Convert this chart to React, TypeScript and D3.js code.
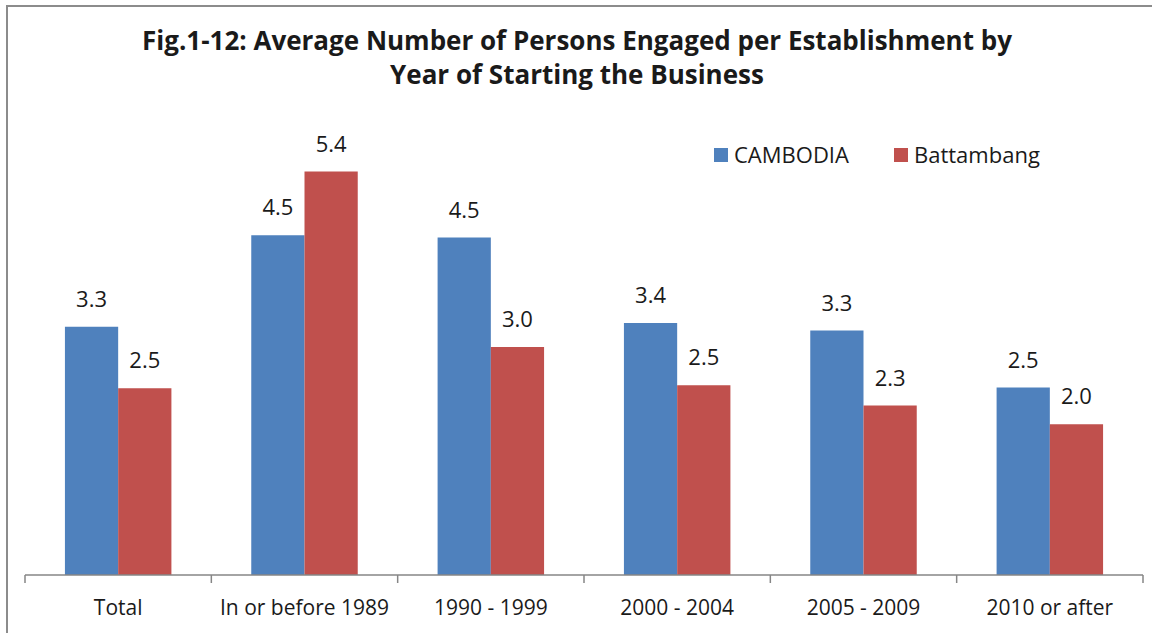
import React from 'react';
import * as d3 from 'd3';

const categories = ['Total', 'In or before 1989', '1990 - 1999', '2000 - 2004', '2005 - 2009', '2010 or after'];
const seriesNames = ['CAMBODIA', 'Battambang'];
const cambodiaValues = [3.31, 4.53, 4.5, 3.36, 3.26, 2.5];
const battambangValues = [2.49, 5.38, 3.04, 2.53, 2.26, 2.01];
const seriesColors = ['#4f81bd', '#c0504d'];
const titleLines = [
  'Fig.1-12: Average Number of Persons Engaged per Establishment by',
  'Year of Starting the Business'
];

const W = 1152;
const H = 633;
const FONT = '"Open Sans", Lato, sans-serif';
const TEXT = '#1a1a1a';

export default function App() {
  const series = [cambodiaValues, battambangValues];

  const x0 = d3.scaleBand<string>().domain(categories).range([25, 1143]).paddingInner(0).paddingOuter(0);
  const x1 = d3.scaleBand<string>().domain(seriesNames).range([0, x0.bandwidth()]).paddingOuter(0.75).paddingInner(0);
  const y = d3.scaleLinear().domain([0, 6]).range([575, 125]);

  const ticks = categories.map((c) => x0(c) as number).concat([x0.range()[1]]);

  return (
    <svg width={W} height={H} style={{ position: 'absolute', left: 0, top: 0, background: '#fff' }}>
      <rect x={7} y={6} width={W + 20} height={H + 20} fill="#fff" stroke="#8c8c8c" strokeWidth={2} />

      {titleLines.map((line, i) => (
        <text
          key={line}
          x={577}
          y={50 + i * 34}
          textAnchor="middle"
          fontFamily={FONT}
          fontWeight={700}
          fontSize={26}
          fill={TEXT}
        >
          {line}
        </text>
      ))}

      {/* legend */}
      {seriesNames.map((name, i) => {
        const lx = i === 0 ? 714 : 894;
        return (
          <g key={name} transform={`translate(${lx},148)`}>
            <rect x={0} y={0} width={14} height={14} fill={seriesColors[i]} />
            <text x={20} y={15} fontFamily={FONT} fontSize={22} fill={TEXT}>{name}</text>
          </g>
        );
      })}

      {/* bars */}
      {categories.map((cat, ci) => (
        <g key={cat} transform={`translate(${x0(cat)},0)`}>
          {seriesNames.map((name, si) => {
            const v = series[si][ci];
            const bx = x1(name) as number;
            const bw = x1.bandwidth();
            return (
              <g key={name}>
                <rect x={bx} y={y(v)} width={bw} height={y(0) - y(v)} fill={seriesColors[si]} />
                <text
                  x={bx + bw / 2}
                  y={y(v) - 20}
                  textAnchor="middle"
                  fontFamily={FONT}
                  fontSize={22}
                  fill={TEXT}
                >
                  {v.toFixed(1)}
                </text>
              </g>
            );
          })}
          <text
            x={x0.bandwidth() / 2}
            y={615}
            textAnchor="middle"
            fontFamily={FONT}
            fontSize={21}
            fill={TEXT}
          >
            {cat}
          </text>
        </g>
      ))}

      {/* axis */}
      <line x1={x0.range()[0]} x2={x0.range()[1]} y1={y(0)} y2={y(0)} stroke="#868686" strokeWidth={1.5} />
      {ticks.map((t, i) => (
        <line key={i} x1={t} x2={t} y1={y(0)} y2={y(0) + 8} stroke="#868686" strokeWidth={1.5} />
      ))}
    </svg>
  );
}
